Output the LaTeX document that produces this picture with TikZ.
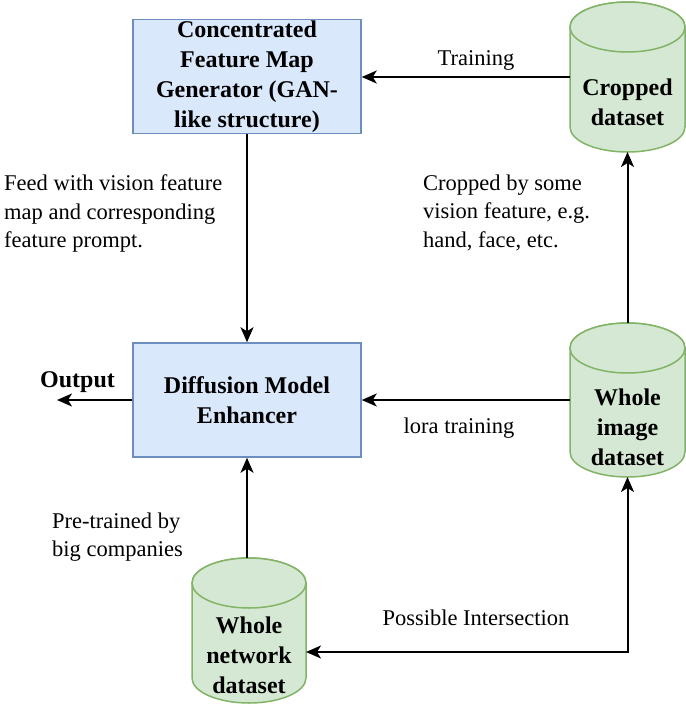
\documentclass[tikz,border=0pt]{standalone}
\usepackage{fontspec}
\setmainfont{Liberation Serif}
\usetikzlibrary{arrows.meta}
\definecolor{bfill}{HTML}{DAE8FC}
\definecolor{bline}{HTML}{6C8EBF}
\definecolor{gfill}{HTML}{D5E8D4}
\definecolor{gline}{HTML}{82B366}
\newcommand\bfnt{\fontsize{24}{30}\selectfont\bfseries}
\newcommand\nfnt{\fontsize{22.5}{28.5}\selectfont}
\newcommand\cylshape[4]{%
  \filldraw[cylstyle] ({#1},{-(#2+25)}) -- ({#1},{-(#4-25)})
    arc[start angle=180,end angle=360,x radius={(#3-#1)/2},y radius=25]
    -- ({#3},{-(#2+25)})
    arc[start angle=0,end angle=180,x radius={(#3-#1)/2},y radius=25] -- cycle;
  \draw[cylstyle] ({(#1+#3)/2},{-(#2+25)}) ellipse [x radius={(#3-#1)/2}, y radius=25];
}
\tikzset{
  procbox/.style={draw=bline, fill=bfill, line width=1.5pt, minimum width=228pt,
    minimum height=114pt, inner sep=0pt, align=center, font=\bfnt},
  cylstyle/.style={draw=gline, fill=gfill, line width=1.5pt},
  cylarea/.style={inner sep=0pt, outer sep=0pt},
  cyltext/.style={inner sep=0pt, align=center, font=\bfnt},
  lbl/.style={inner sep=0pt, font=\nfnt},
  lblblock/.style={inner sep=0pt, font=\nfnt, align=left, anchor=north west},
  conn/.style={line width=2pt, -{Stealth[length=15pt, width=13pt, inset=4pt]}},
  bconn/.style={line width=2pt, {Stealth[length=15pt, width=13pt, inset=4pt]}-{Stealth[length=15pt, width=13pt, inset=4pt]}},
}
\begin{document}
\begin{tikzpicture}[x=1pt,y=1pt]
\useasboundingbox (0,0) rectangle (686,-705);
% boxes
\node[procbox] (gen) at (247,-76.5) {Concentrated\\Feature Map\\Generator (GAN-\\like structure)};
\node[procbox] (diff) at (247,-400) {Diffusion Model\\Enhancer};
% cylinders
\cylshape{570}{2}{685}{152}
\node[cylarea, minimum width=115pt, minimum height=150pt] (crop) at (627.5,-77) {};
\node[cyltext] (cropT) at (627.5,-102.5) {Cropped\\dataset};
\cylshape{570}{323}{685}{477}
\node[cylarea, minimum width=115pt, minimum height=154pt] (img) at (627.5,-400) {};
\node[cyltext] (imgT) at (627.5,-427) {Whole\\image\\dataset};
\cylshape{192}{558}{306}{703}
\node[cylarea, minimum width=114pt, minimum height=145pt] (net) at (249,-630.5) {};
\node[cyltext] (netT) at (249,-655) {Whole\\network\\dataset};
% connectors
\draw[conn] (crop.west) -- (crop.west -| gen.east);
\draw[conn] (gen.south) -- (diff.north);
\draw[conn] (img.north) -- (crop.south);
\draw[conn] (img.west) -- (img.west -| diff.east);
\coordinate (out) at (57,-400);
\draw[conn] (diff.west) -- (out);
\draw[conn] (net.north -| diff.south) -- (diff.south);
\coordinate (netE) at (306,-652);
\draw[bconn] (netE) -| (img.south);
% labels
\node[lbl, anchor=base] (ltrain) at (476,-65) {Training};
\node[lbl, anchor=base] (llora) at (459,-433) {lora training};
\node[inner sep=0pt, font=\bfnt, anchor=base] (lout) at (77.5,-387) {Output};
\node[lbl, anchor=base] (linter) at (476,-625) {Possible Intersection};
\node[lblblock] (lfeed) at (4,-174.6) {Feed with vision feature\\map and corresponding\\feature prompt.};
\node[lblblock] (lcrop) at (423,-174.6) {Cropped by some\\vision feature, e.g.\\hand, face, etc.};
\node[lblblock] (lpre) at (52,-512.6) {Pre-trained by\\big companies};
\end{tikzpicture}
\end{document}
